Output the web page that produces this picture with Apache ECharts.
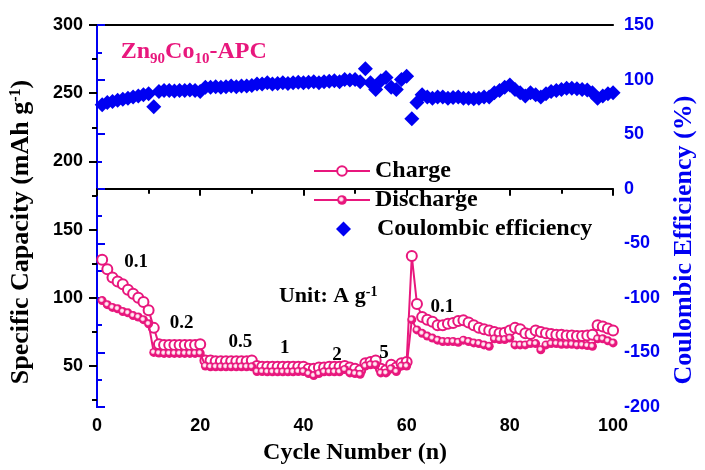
<!DOCTYPE html>
<html><head><meta charset="utf-8">
<script src="https://cdn.jsdelivr.net/npm/echarts@6/dist/echarts.min.js"></script>
<style>html,body{margin:0;padding:0;background:#fff}#c{width:705px;height:470px}</style>
</head><body><div id="c"></div>
<script>
// ---- data ----
const cycles = [1,2,3,4,5,6,7,8,9,10,11,12,13,14,15,16,17,18,19,20,
  21,22,23,24,25,26,27,28,29,30,31,32,33,34,35,36,37,38,39,40,
  41,42,43,44,45,46,47,48,49,50,51,52,53,54,55,56,57,58,59,60,
  61,62,63,64,65,66,67,68,69,70,71,72,73,74,75,76,77,78,79,80,
  81,82,83,84,85,86,87,88,89,90,91,92,93,94,95,96,97,98,99,100];
const charge = [128,121,115,112,110,106,103,100,97,91,
  78,66,65.5,65.5,65.5,65.5,65.5,65.5,65.5,66,
  54,54,53.5,53.5,53.5,53.5,53.5,53.5,53.5,54,
  50,49.5,49.5,49.5,49.5,49.5,49.5,49.5,49.5,49.5,
  48,48,49,49,49.5,49.5,49.5,50,49,48,
  47,52,53,54,48,47,51,49,52,53,
  130.6,95.5,86,84,82.5,80,80,81,81.5,83,
  83.5,82,80,78,77,76,75,74,74.5,76,
  78,77,74,73.5,76,75,74,73.5,73,73,
  72.5,72.5,72,72,72.5,73,80,79,77.5,76];
const discharge = [98,95,93,92,90,89,87,86,84,81,
  60,59.5,59.3,59.3,59.3,59.3,59.3,59.3,59.3,59.5,
  50,49.5,49.5,49.5,49.5,49.5,49.5,49.5,49.5,49.5,
  46,46,45.8,45.8,45.8,45.8,45.8,45.8,46,46,
  44.5,43,44.5,45.8,45.8,45.8,45.8,47.5,45,44.5,
  44,50,51,51,45,45,48,46,50,50,
  84,76.5,74,72,70.5,69,68,68,68,67.5,
  69,68,67,66.5,65.5,64.5,70,69.5,69.5,70.5,
  65.5,65.5,65.5,66.5,66.5,62,65.5,66.5,66.5,66,
  66,66,65.5,65.5,65,64.5,70,70,68.5,67];
const efficiency = [77,79,80,81,82,83,84,85,86,87,
  75,89,90,90,89.5,90,90,90.5,90,89,
  93,93,93.5,93,93.5,94,93.5,94,94,94.5,
  96,96,97,96,96.5,97,96.5,97,97.5,97,
  97.5,98,97,98,98.5,99,98,100,99.5,100,
  98,110,97,91,99,102,93,91,100,103,
  64,79,86,84,83,84,84,83,83.5,84,
  83,83,82.5,83,84,84,88,90,93,95,
  91,88,85,88,86,84,87,89,90,91,
  92,92,91.5,91,90.5,88,83,85,87,88];
const leftTicks = [50,100,150,200,250,300];
const leftMinorTicks = [25,75,125,175,225,275];
const seriesNames = ['Charge','Discharge','Coulombic efficiency'];
const rateLabels = ['0.1','0.2','0.5','1','2','5','0.1'];
const rateX = [7.6,16.4,27.8,36.4,46.5,55.6,66.9];
const rateY = [126.3,81.6,67.6,63.2,58,59.6,93];

// ---- chart ----
const PINK = '#E8177D', BLUE = '#0000F2';
const SERIF = '"Liberation Serif","Times New Roman",serif';
const SANS = '"Liberation Sans",Arial,sans-serif';
const pair = (a) => cycles.map((c, i) => [c, a[i]]);
const chart = echarts.init(document.getElementById('c'), null, {renderer: 'canvas'});
const legendText = {fontFamily: SERIF, fontWeight: 'bold', fontSize: 24, color: '#000'};
const option = {
  animation: false,
  backgroundColor: '#fff',
  grid: {left: 97, right: 83, top: 25, bottom: 63, containLabel: false},
  legend: [{
    data: seriesNames.slice(0, 2), orient: 'vertical', left: 313, top: 159, padding: 0,
    itemWidth: 56, itemHeight: 12, itemGap: 5, textStyle: legendText
  }, {
    data: [seriesNames[2]], orient: 'vertical', left: 336, top: 217, padding: 0,
    itemWidth: 15, itemHeight: 15, itemGap: 5,
    textStyle: Object.assign({padding: [0, 0, 0, 21]}, legendText)
  }],
  xAxis: [{
    type: 'value', min: 0, max: 100, interval: 20, position: 'bottom',
    name: 'Cycle Number (n)', nameLocation: 'middle', nameGap: 34,
    nameTextStyle: {fontFamily: SERIF, fontWeight: 'bold', fontSize: 24, color: '#000'},
    axisLine: {lineStyle: {color: '#000', width: 2}},
    axisTick: {length: 7, lineStyle: {width: 2}},
    minorTick: {show: true, splitNumber: 2, length: 5, lineStyle: {color: '#000', width: 2}},
    axisLabel: {margin: 10, fontFamily: SANS, fontWeight: 'bold', fontSize: 18, color: '#000'},
    splitLine: {show: false}
  }, {
    type: 'value', min: 0, max: 100, position: 'top',
    axisLine: {lineStyle: {color: '#000', width: 2}},
    axisTick: {show: false}, axisLabel: {show: false}, splitLine: {show: false}
  }],
  yAxis: [{
    type: 'value', min: 20, max: 300, position: 'left',
    name: '{a|Specific Capacity (mAh g}{s|-1}{a|)}', nameLocation: 'middle', nameGap: 62, nameRotate: 90,
    nameTextStyle: {padding: [0, 32, 0, 0], rich: {
      a: {fontFamily: SERIF, fontWeight: 'bold', fontSize: 26, color: '#000', lineHeight: 27},
      s: {fontFamily: SERIF, fontWeight: 'bold', fontSize: 16, color: '#000', verticalAlign: 'top', lineHeight: 16}
    }},
    axisLine: {lineStyle: {color: '#000', width: 2}},
    axisTick: {customValues: leftTicks, length: 8, lineStyle: {width: 2}},
    axisLabel: {customValues: leftTicks, margin: 14, fontFamily: SANS, fontWeight: 'bold', fontSize: 18, color: '#000'},
    splitLine: {show: false}
  }, {
    type: 'value', min: -200, max: 150, interval: 50, position: 'right',
    name: 'Coulombic Efficiency (%)', nameLocation: 'middle', nameGap: 51, nameRotate: 90,
    nameTextStyle: {fontFamily: SERIF, fontWeight: 'bold', fontSize: 26, color: BLUE, padding: [0, 48, 0, 0]},
    axisLine: {lineStyle: {color: BLUE, width: 2}},
    axisTick: {length: 8, lineStyle: {color: BLUE, width: 2}},
    minorTick: {show: true, splitNumber: 2, length: 5, lineStyle: {color: BLUE, width: 2}},
    axisLabel: {margin: 11, fontFamily: SANS, fontWeight: 'bold', fontSize: 18, color: BLUE},
    splitLine: {show: false}
  }, {
    type: 'value', min: 20, max: 300, position: 'left',
    axisLine: {show: false},
    axisTick: {customValues: leftMinorTicks, length: 5, lineStyle: {color: '#000', width: 2}},
    axisLabel: {show: false}, splitLine: {show: false}
  }],
  series: [{
    name: seriesNames[0], type: 'line', yAxisIndex: 0, data: pair(charge),
    symbol: 'emptyCircle', symbolSize: 10,
    lineStyle: {color: PINK, width: 2},
    itemStyle: {color: PINK, borderColor: PINK, borderWidth: 1.2}, z: 3
  }, {
    name: seriesNames[1], type: 'line', yAxisIndex: 0, data: pair(discharge),
    symbol: 'circle', symbolSize: 9,
    lineStyle: {color: PINK, width: 2},
    itemStyle: {color: {type: 'radial', x: 0.42, y: 0.42, r: 0.55, colorStops: [
      {offset: 0, color: '#ffffff'}, {offset: 0.3, color: '#ffd0e4'}, {offset: 0.55, color: PINK}, {offset: 1, color: PINK}]}},
    z: 4
  }, {
    name: seriesNames[2], type: 'scatter', yAxisIndex: 1, data: pair(efficiency),
    symbol: 'diamond', symbolSize: 15, itemStyle: {color: BLUE, opacity: 1}, z: 5
  }]
};
chart.setOption(option);

// annotations placed through the axes
const g = [];
rateLabels.forEach((t, i) => {
  const p = chart.convertToPixel({xAxisIndex: 0, yAxisIndex: 0}, [rateX[i], rateY[i]]);
  g.push({type: 'text', x: p[0], y: p[1], z: 10, style: {text: t, align: 'center', verticalAlign: 'middle',
    font: 'bold 19px ' + SERIF, fill: '#000'}});
});
const pu = chart.convertToPixel({xAxisIndex: 0, yAxisIndex: 0}, [44.8, 100.8]);
g.push({type: 'text', x: pu[0], y: pu[1], z: 10, style: {
  text: '{a|Unit: A g}{s|-1}', align: 'center', verticalAlign: 'middle',
  rich: {a: {fontFamily: SERIF, fontWeight: 'bold', fontSize: 22, fill: '#000', lineHeight: 23},
         s: {fontFamily: SERIF, fontWeight: 'bold', fontSize: 14, fill: '#000', verticalAlign: 'top', lineHeight: 14}}}});
const pz = chart.convertToPixel({xAxisIndex: 0, yAxisIndex: 0}, [4.6, 280.5]);
g.push({type: 'text', x: pz[0], y: pz[1], z: 10, style: {
  text: '{a|Zn}{b|90}{a|Co}{b|10}{a|-APC}', align: 'left', verticalAlign: 'middle',
  rich: {a: {fontFamily: SERIF, fontWeight: 'bold', fontSize: 24, fill: PINK, lineHeight: 30},
         b: {fontFamily: SERIF, fontWeight: 'bold', fontSize: 15, fill: PINK, verticalAlign: 'bottom', lineHeight: 15}}}});
chart.setOption({graphic: g});
</script></body></html>
